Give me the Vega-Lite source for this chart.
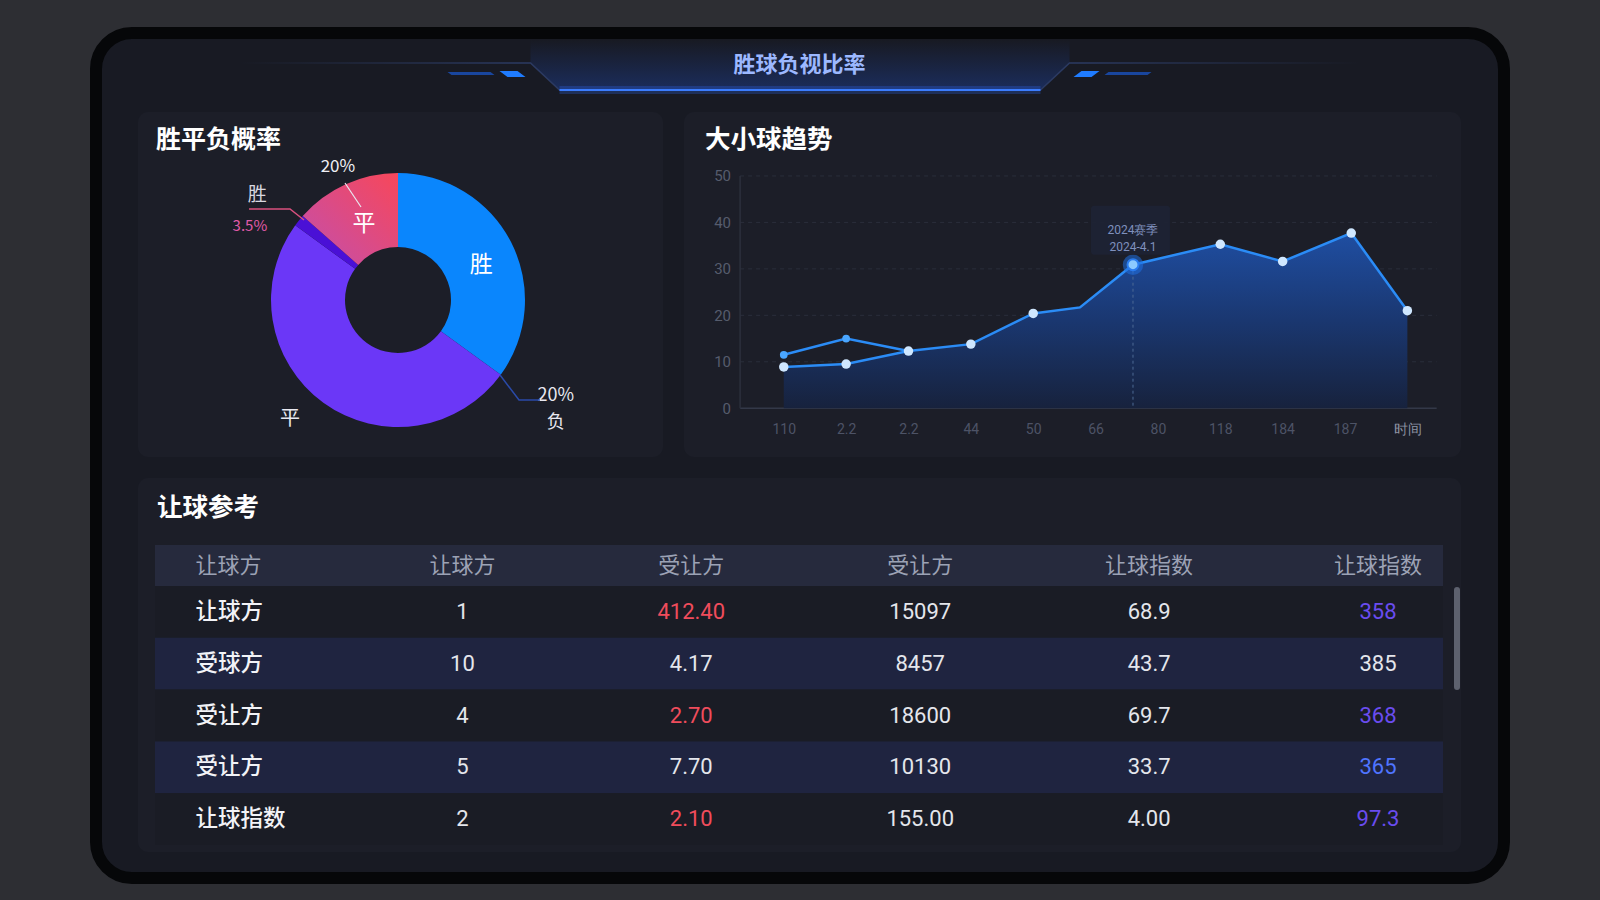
{
  "$schema": "https://vega.github.io/schema/vega-lite/v6.json",
  "background": "#2d2e33",
  "padding": {"left": 90, "top": 27, "right": 90, "bottom": 16},
  "bounds": "flush",
  "spacing": 21,
  "resolve": {"scale": {"color": "independent"}},
  "config": {
    "font": "Noto Sans CJK SC",
    "view": {"stroke": null},
    "axisX": {"domain": false, "ticks": false, "grid": false, "labelColor": "#4d5366", "labelFontSize": 14, "labelPadding": 14, "offset": -48.8, "labelFont": "Roboto"},
    "axisY": {"domain": false, "ticks": false, "grid": false, "labelColor": "#565c6d", "labelFontSize": 15, "labelPadding": 10, "offset": -56.5, "labelFont": "Roboto"}
  },
  "datasets": {
    "trend": [
      {"series": "大球", "t": 0, "v": 8.9, "dot": true, "selected": false},
      {"series": "大球", "t": 1, "v": 9.5, "dot": true, "selected": false},
      {"series": "大球", "t": 2, "v": 12.3, "dot": true, "selected": false},
      {"series": "大球", "t": 3, "v": 13.8, "dot": true, "selected": false},
      {"series": "大球", "t": 4, "v": 20.4, "dot": true, "selected": false},
      {"series": "大球", "t": 4.75, "v": 21.7, "dot": false, "selected": false},
      {"series": "大球", "t": 5.6, "v": 30.9, "dot": true, "selected": true, "tip": "2024赛季\n2024-4.1"},
      {"series": "大球", "t": 7, "v": 35.3, "dot": true, "selected": false},
      {"series": "大球", "t": 8, "v": 31.6, "dot": true, "selected": false},
      {"series": "大球", "t": 9.1, "v": 37.7, "dot": true, "selected": false},
      {"series": "大球", "t": 10, "v": 21.0, "dot": true, "selected": false},
      {"series": "小球", "t": 0, "v": 11.5, "dot": true, "selected": false},
      {"series": "小球", "t": 1, "v": 15.0, "dot": true, "selected": false},
      {"series": "小球", "t": 2, "v": 12.3, "dot": true, "selected": false}
    ],
    "head": [
      {"col": 1, "text": "让球方"}, {"col": 2, "text": "让球方"}, {"col": 3, "text": "受让方"},
      {"col": 4, "text": "受让方"}, {"col": 5, "text": "让球指数"}, {"col": 6, "text": "让球指数"}
    ],
    "body": [
      {"row": 1, "col": 1, "text": "让球方", "flag": "none"},
      {"row": 1, "col": 2, "text": "1", "flag": "none"},
      {"row": 1, "col": 3, "text": "412.40", "flag": "up"},
      {"row": 1, "col": 4, "text": "15097", "flag": "none"},
      {"row": 1, "col": 5, "text": "68.9", "flag": "none"},
      {"row": 1, "col": 6, "text": "358", "flag": "down"},
      {"row": 2, "col": 1, "text": "受球方", "flag": "none"},
      {"row": 2, "col": 2, "text": "10", "flag": "none"},
      {"row": 2, "col": 3, "text": "4.17", "flag": "none"},
      {"row": 2, "col": 4, "text": "8457", "flag": "none"},
      {"row": 2, "col": 5, "text": "43.7", "flag": "none"},
      {"row": 2, "col": 6, "text": "385", "flag": "none"},
      {"row": 3, "col": 1, "text": "受让方", "flag": "none"},
      {"row": 3, "col": 2, "text": "4", "flag": "none"},
      {"row": 3, "col": 3, "text": "2.70", "flag": "up"},
      {"row": 3, "col": 4, "text": "18600", "flag": "none"},
      {"row": 3, "col": 5, "text": "69.7", "flag": "none"},
      {"row": 3, "col": 6, "text": "368", "flag": "down"},
      {"row": 4, "col": 1, "text": "受让方", "flag": "none"},
      {"row": 4, "col": 2, "text": "5", "flag": "none"},
      {"row": 4, "col": 3, "text": "7.70", "flag": "none"},
      {"row": 4, "col": 4, "text": "10130", "flag": "none"},
      {"row": 4, "col": 5, "text": "33.7", "flag": "none"},
      {"row": 4, "col": 6, "text": "365", "flag": "hot"},
      {"row": 5, "col": 1, "text": "让球指数", "flag": "none"},
      {"row": 5, "col": 2, "text": "2", "flag": "none"},
      {"row": 5, "col": 3, "text": "2.10", "flag": "up"},
      {"row": 5, "col": 4, "text": "155.00", "flag": "none"},
      {"row": 5, "col": 5, "text": "4.00", "flag": "none"},
      {"row": 5, "col": 6, "text": "97.3", "flag": "down"}
    ]
  },
  "vconcat": [
    {
      "width": 1323,
      "height": 64,
      "view": {"fill": null, "stroke": null},
      "data": {"values": [{"title": "胜球负视比率"}]},
      "layer": [
        {
          "mark": {"type": "rect", "fill": "#181a23", "stroke": "#060709", "strokeWidth": 12, "cornerRadius": 36},
          "encoding": {"x": {"value": -42}, "x2": {"value": 1366}, "y": {"value": 6}, "y2": {"value": 851}}
        },
        {
          "mark": {"type": "point", "filled": true, "size": 4, "opacity": 1, "strokeWidth": 0,
            "shape": "M-269,13L-269,36L-240,63L241,63L270,36L270,13Z",
            "fill": {"gradient": "linear", "x1": 0, "y1": 0, "x2": 0, "y2": 1, "stops": [{"offset": 0, "color": "#181a23"}, {"offset": 1, "color": "#1b2d5c"}]}},
          "encoding": {"x": {"value": 661.5}, "y": {"value": 0}}
        },
        {
          "mark": {"type": "point", "filled": false, "size": 4, "opacity": 1, "strokeWidth": 1.5,
            "shape": "M-560,36L-269,36L-240,63L241,63L270,36L560,36",
            "stroke": {"gradient": "linear", "x1": 0, "y1": 0, "x2": 1, "y2": 0, "stops": [{"offset": 0, "color": "#181a23"}, {"offset": 0.25, "color": "#2b3a62"}, {"offset": 0.75, "color": "#2b3a62"}, {"offset": 1, "color": "#181a23"}]}},
          "encoding": {"x": {"value": 661.5}, "y": {"value": 0}}
        },
        {
          "mark": {"type": "point", "filled": false, "size": 4, "opacity": 0.25, "strokeWidth": 8, "stroke": "#2f6dff", "shape": "M-240,63L241,63"},
          "encoding": {"x": {"value": 661.5}, "y": {"value": 0}}
        },
        {
          "mark": {"type": "point", "filled": false, "size": 4, "opacity": 1, "strokeWidth": 2, "stroke": "#3b7dff", "shape": "M-240,63L241,63"},
          "encoding": {"x": {"value": 661.5}, "y": {"value": 0}}
        },
        {
          "mark": {"type": "point", "filled": true, "size": 4, "opacity": 1, "strokeWidth": 0, "fill": "#1f7cff",
            "shape": "M-300,44L-282,44L-274,50L-292,50Z M300,44L282,44L274,50L292,50Z"},
          "encoding": {"x": {"value": 661.5}, "y": {"value": 0}}
        },
        {
          "mark": {"type": "point", "filled": true, "size": 4, "opacity": 0.75, "strokeWidth": 0, "fill": "#1a56c8",
            "shape": "M-352,45L-309,45L-305,48L-348,48Z M352,45L309,45L305,48L348,48Z"},
          "encoding": {"x": {"value": 661.5}, "y": {"value": 0}}
        },
        {
          "mark": {"type": "text", "fontSize": 22, "fontWeight": 600, "fill": "#9cb8ff", "align": "center", "baseline": "middle"},
          "encoding": {"x": {"value": 661.5}, "y": {"value": 38}, "text": {"field": "title"}}
        }
      ]
    },
    {
      "spacing": 21,
      "resolve": {"scale": {"color": "independent"}},
      "vconcat": [
        {
          "spacing": 21,
          "resolve": {"scale": {"color": "independent"}},
          "hconcat": [
            {
              "width": 525,
              "height": 345,
              "view": {"fill": "#1c1e28", "cornerRadius": 10, "stroke": null},
              "title": {"text": "胜平负概率", "anchor": "start", "frame": "group", "offset": -41, "dx": 18, "fontSize": 25, "fontWeight": "bold", "color": "#ffffff"},
              "layer": [
                {
                  "data": {"values": [
                    {"k": "胜", "v": 35, "seq": 1, "tag": "", "note": "", "edge": "20%\n负"},
                    {"k": "负", "v": 50, "seq": 2, "tag": "平", "note": "", "edge": ""},
                    {"k": "走", "v": 1.5, "seq": 3, "tag": "胜", "note": "3.5%", "edge": ""},
                    {"k": "平", "v": 13.5, "seq": 4, "tag": "20%", "note": "", "edge": ""}
                  ]},
                  "encoding": {
                    "theta": {"field": "v", "type": "quantitative", "stack": true, "scale": {"domain": [0, 100]}},
                    "order": {"field": "seq", "type": "quantitative"},
                    "detail": {"field": "k", "type": "nominal"}
                  },
                  "layer": [
                    {
                      "mark": {"type": "arc", "innerRadius": 53, "outerRadius": 127, "x": 260, "y": 188},
                      "encoding": {
                        "color": {
                          "condition": {"test": "datum.k === '平'", "value": {"gradient": "linear", "x1": 0, "y1": 1, "x2": 1, "y2": 0, "stops": [{"offset": 0, "color": "#c24fae"}, {"offset": 1, "color": "#f7475a"}]}},
                          "field": "k", "type": "nominal",
                          "scale": {"domain": ["胜", "负", "走", "平"], "range": ["#0a86fd", "#6b37f7", "#4a10d6", "#f04a62"]},
                          "legend": null
                        }
                      }
                    },
                    {
                      "mark": {"type": "text", "radius": 90, "x": 260, "y": 188, "dx": 3, "dy": 6, "fontSize": 23, "fill": "#ffffff", "align": "center", "baseline": "middle"},
                      "encoding": {"text": {"condition": {"test": "datum.k === '胜' || datum.k === '平'", "field": "k"}, "value": ""}}
                    },
                    {
                      "mark": {"type": "text", "radius": 160, "x": 260, "y": 188, "dx": -14, "dy": -10, "fontSize": 20, "fill": "#e8e8f0", "align": "center", "baseline": "middle"},
                      "encoding": {"text": {"condition": {"test": "datum.k === '负'", "field": "tag"}, "value": ""}}
                    },
                    {
                      "mark": {"type": "text", "radius": 146, "x": 260, "y": 188, "fontSize": 17, "fill": "#f0f0f5", "align": "center", "baseline": "middle"},
                      "encoding": {"text": {"condition": {"test": "datum.k === '平'", "field": "tag"}, "value": ""}}
                    },
                    {
                      "mark": {"type": "text", "radius": 170, "x": 260, "y": 188, "dx": -8, "dy": 1, "fontSize": 19, "fill": "#d8d8e0", "align": "center", "baseline": "middle"},
                      "encoding": {"text": {"condition": {"test": "datum.k === '走'", "field": "tag"}, "value": ""}}
                    },
                    {
                      "mark": {"type": "text", "radius": 150, "x": 260, "y": 188, "dx": -31, "dy": 20, "fontSize": 15, "fill": "#e05aa8", "align": "center", "baseline": "middle"},
                      "encoding": {"text": {"field": "note"}}
                    },
                    {
                      "transform": [
                        {"window": [{"op": "sum", "field": "v", "as": "cum"}], "sort": [{"field": "seq"}], "frame": [null, 0]},
                        {"filter": "datum.k === '胜'"}
                      ],
                      "mark": {"type": "text", "radius": 190, "x": 260, "y": 188, "dx": 4, "dy": -16, "fontSize": 18, "fill": "#e8e8f0", "align": "center", "baseline": "middle", "lineBreak": "\n", "lineHeight": 27},
                      "encoding": {
                        "theta": {"field": "cum", "type": "quantitative", "stack": null, "scale": {"domain": [0, 100]}},
                        "text": {"field": "edge"}
                      }
                    }
                  ]
                },
                {
                  "data": {"values": [{}]},
                  "mark": {"type": "point", "filled": false, "size": 4, "opacity": 1, "strokeWidth": 1.2, "stroke": "#e8e8f0", "shape": "M-53,-117L-37,-93"},
                  "encoding": {"x": {"value": 260}, "y": {"value": 188}}
                },
                {
                  "data": {"values": [{}]},
                  "mark": {"type": "point", "filled": false, "size": 4, "opacity": 1, "strokeWidth": 1.5, "stroke": "#d9507e", "shape": "M-149,-91L-108,-91L-94,-80"},
                  "encoding": {"x": {"value": 260}, "y": {"value": 188}}
                },
                {
                  "data": {"values": [{}]},
                  "mark": {"type": "point", "filled": false, "size": 4, "opacity": 1, "strokeWidth": 1.5, "stroke": "#2a4aa8", "shape": "M102,75L121,100L142,100"},
                  "encoding": {"x": {"value": 260}, "y": {"value": 188}}
                }
              ]
            },
            {
              "width": 777,
              "height": 345,
              "view": {"fill": "#1c1e28", "cornerRadius": 10, "stroke": null},
              "title": {"text": "大小球趋势", "anchor": "start", "frame": "group", "offset": -41, "dx": 21, "fontSize": 25.5, "fontWeight": "bold", "color": "#ffffff"},
              "layer": [
                {
                  "data": {"values": [{"g": 10}, {"g": 20}, {"g": 30}, {"g": 40}, {"g": 50}]},
                  "mark": {"type": "rule", "stroke": "#2a2e3b", "strokeDash": [4, 4], "strokeWidth": 1},
                  "encoding": {
                    "y": {"field": "g", "type": "quantitative", "scale": {"domain": [-10.5, 63.77], "nice": false, "zero": false}, "title": null},
                    "x": {"datum": -0.7, "type": "quantitative", "scale": {"domain": [-1.6, 10.86], "nice": false, "zero": false}, "title": null},
                    "x2": {"datum": 10.47}
                  }
                },
                {
                  "data": {"values": [{"g": 0}]},
                  "mark": {"type": "rule", "stroke": "#333848", "strokeWidth": 1.5},
                  "encoding": {
                    "y": {"field": "g", "type": "quantitative", "scale": {"domain": [-10.5, 63.77], "nice": false, "zero": false}, "title": null},
                    "x": {"datum": -0.7, "type": "quantitative", "scale": {"domain": [-1.6, 10.86], "nice": false, "zero": false}, "title": null},
                    "x2": {"datum": 10.47}
                  }
                },
                {
                  "data": {"values": [{"g": 0}]},
                  "mark": {"type": "rule", "stroke": "#2c303c", "strokeWidth": 1.5},
                  "encoding": {
                    "x": {"datum": -0.7, "type": "quantitative", "scale": {"domain": [-1.6, 10.86], "nice": false, "zero": false}, "title": null},
                    "y": {"field": "g", "type": "quantitative", "scale": {"domain": [-10.5, 63.77], "nice": false, "zero": false}, "title": null},
                    "y2": {"datum": 50}
                  }
                },
                {
                  "data": {"name": "trend"},
                  "transform": [{"filter": "datum.series === '大球'"}],
                  "mark": {"type": "area", "fill": {"gradient": "linear", "x1": 0, "y1": 0, "x2": 0, "y2": 1, "stops": [{"offset": 0, "color": "#1f4ea2"}, {"offset": 0.5, "color": "#1a3770"}, {"offset": 1, "color": "#17223d"}]}},
                  "encoding": {
                    "x": {"field": "t", "type": "quantitative", "scale": {"domain": [-1.6, 10.86], "nice": false, "zero": false}, "title": null,
                      "axis": {"values": [0, 1, 2, 3, 4, 5, 6, 7, 8, 9, 10],
                        "labelExpr": "['110','2.2','2.2','44','50','66','80','118','184','187','时间'][datum.value]",
                        "labelColor": {"condition": {"test": "datum.value == 10", "value": "#8d93a3"}, "value": "#4d5366"}}},
                    "y": {"field": "v", "type": "quantitative", "scale": {"domain": [-10.5, 63.77], "nice": false, "zero": false}, "title": null,
                      "axis": {"values": [0, 10, 20, 30, 40, 50]}},
                    "y2": {"datum": 0}
                  }
                },
                {
                  "data": {"name": "trend"},
                  "transform": [{"filter": "datum.selected"}],
                  "mark": {"type": "rule", "stroke": "#4d6a94", "strokeDash": [3, 3], "strokeWidth": 1},
                  "encoding": {
                    "x": {"field": "t", "type": "quantitative", "scale": {"domain": [-1.6, 10.86], "nice": false, "zero": false}, "title": null},
                    "y": {"field": "v", "type": "quantitative", "scale": {"domain": [-10.5, 63.77], "nice": false, "zero": false}, "title": null},
                    "y2": {"datum": 0}
                  }
                },
                {
                  "data": {"name": "trend"},
                  "mark": {"type": "line", "stroke": "#2b8cf6", "strokeWidth": 2.5},
                  "encoding": {
                    "x": {"field": "t", "type": "quantitative", "scale": {"domain": [-1.6, 10.86], "nice": false, "zero": false}, "title": null},
                    "y": {"field": "v", "type": "quantitative", "scale": {"domain": [-10.5, 63.77], "nice": false, "zero": false}, "title": null},
                    "detail": {"field": "series", "type": "nominal"}
                  }
                },
                {
                  "data": {"name": "trend"},
                  "transform": [{"filter": "datum.series === '小球'"}],
                  "mark": {"type": "point", "filled": true, "fill": "#4aa6ff", "size": 60, "opacity": 1},
                  "encoding": {
                    "x": {"field": "t", "type": "quantitative", "scale": {"domain": [-1.6, 10.86], "nice": false, "zero": false}, "title": null},
                    "y": {"field": "v", "type": "quantitative", "scale": {"domain": [-10.5, 63.77], "nice": false, "zero": false}, "title": null}
                  }
                },
                {
                  "data": {"name": "trend"},
                  "transform": [{"filter": "datum.series === '大球' && datum.dot && !datum.selected"}],
                  "mark": {"type": "point", "filled": true, "fill": "#cfe7ff", "size": 90, "opacity": 1},
                  "encoding": {
                    "x": {"field": "t", "type": "quantitative", "scale": {"domain": [-1.6, 10.86], "nice": false, "zero": false}, "title": null},
                    "y": {"field": "v", "type": "quantitative", "scale": {"domain": [-10.5, 63.77], "nice": false, "zero": false}, "title": null}
                  }
                },
                {
                  "data": {"name": "trend"},
                  "transform": [{"filter": "datum.selected"}],
                  "mark": {"type": "point", "filled": true, "fill": "#1f6fe0", "size": 420, "opacity": 0.55},
                  "encoding": {
                    "x": {"field": "t", "type": "quantitative", "scale": {"domain": [-1.6, 10.86], "nice": false, "zero": false}, "title": null},
                    "y": {"field": "v", "type": "quantitative", "scale": {"domain": [-10.5, 63.77], "nice": false, "zero": false}, "title": null}
                  }
                },
                {
                  "data": {"name": "trend"},
                  "transform": [{"filter": "datum.selected"}],
                  "mark": {"type": "point", "filled": true, "fill": "#8ccaff", "stroke": "#2a7cf0", "strokeWidth": 2, "size": 120, "opacity": 1},
                  "encoding": {
                    "x": {"field": "t", "type": "quantitative", "scale": {"domain": [-1.6, 10.86], "nice": false, "zero": false}, "title": null},
                    "y": {"field": "v", "type": "quantitative", "scale": {"domain": [-10.5, 63.77], "nice": false, "zero": false}, "title": null}
                  }
                },
                {
                  "data": {"name": "trend"},
                  "transform": [{"filter": "datum.selected"}],
                  "mark": {"type": "rect", "fill": "#1d2334", "opacity": 0.95, "cornerRadius": 3, "xOffset": -42, "x2Offset": 37, "yOffset": -59, "y2Offset": -10},
                  "encoding": {
                    "x": {"field": "t", "type": "quantitative", "scale": {"domain": [-1.6, 10.86], "nice": false, "zero": false}, "title": null},
                    "x2": {"field": "t"},
                    "y": {"field": "v", "type": "quantitative", "scale": {"domain": [-10.5, 63.77], "nice": false, "zero": false}, "title": null},
                    "y2": {"field": "v"}
                  }
                },
                {
                  "data": {"name": "trend"},
                  "transform": [{"filter": "datum.selected"}],
                  "mark": {"type": "text", "fill": "#7f90bd", "fontSize": 12, "align": "center", "baseline": "middle", "lineBreak": "\n", "lineHeight": 17, "yOffset": -35, "font": "Roboto"},
                  "encoding": {
                    "x": {"field": "t", "type": "quantitative", "scale": {"domain": [-1.6, 10.86], "nice": false, "zero": false}, "title": null},
                    "y": {"field": "v", "type": "quantitative", "scale": {"domain": [-10.5, 63.77], "nice": false, "zero": false}, "title": null},
                    "text": {"field": "tip"}
                  }
                }
              ]
            }
          ]
        },
        {
          "width": 1323,
          "height": 374,
          "view": {"fill": "#1c1e28", "cornerRadius": 10, "stroke": null},
          "title": {"text": "让球参考", "anchor": "start", "frame": "group", "offset": -43, "dx": 19, "fontSize": 25.5, "fontWeight": "bold", "color": "#ffffff"},
          "layer": [
            {
              "data": {"name": "head"},
              "encoding": {
                "y": {"datum": "表头", "type": "nominal", "scale": {"type": "band", "domain": ["表头"], "range": [67, 108], "paddingInner": 0, "paddingOuter": 0}, "axis": null}
              },
              "layer": [
                {
                  "mark": {"type": "rect", "fill": "#262a3d"},
                  "encoding": {"x": {"value": 17}, "x2": {"value": 1305}}
                },
                {
                  "transform": [{"filter": "datum.col === 1"}],
                  "mark": {"type": "text", "fontSize": 22, "fill": "#9ca2b5", "align": "left", "dx": -38, "baseline": "middle"},
                  "encoding": {
                    "x": {"field": "col", "type": "ordinal", "scale": {"type": "point", "domain": [1, 2, 3, 4, 5, 6], "range": [24.5, 1311], "padding": 0.31}, "axis": null},
                    "text": {"field": "text"}
                  }
                },
                {
                  "transform": [{"filter": "datum.col > 1"}],
                  "mark": {"type": "text", "fontSize": 22, "fill": "#9ca2b5", "align": "center", "baseline": "middle"},
                  "encoding": {
                    "x": {"field": "col", "type": "ordinal", "scale": {"type": "point", "domain": [1, 2, 3, 4, 5, 6], "range": [24.5, 1311], "padding": 0.31}, "axis": null},
                    "text": {"field": "text"}
                  }
                }
              ]
            },
            {
              "data": {"name": "body"},
              "encoding": {
                "y": {"field": "row", "type": "ordinal", "scale": {"type": "band", "domain": [1, 2, 3, 4, 5], "range": [108, 367], "paddingInner": 0, "paddingOuter": 0}, "axis": null}
              },
              "layer": [
                {
                  "transform": [{"filter": "datum.col === 1"}],
                  "mark": {"type": "rect"},
                  "encoding": {
                    "x": {"value": 17}, "x2": {"value": 1305},
                    "fill": {"condition": {"test": "datum.row % 2 === 0", "value": "#1f2440"}, "value": "#1a1c25"}
                  }
                },
                {
                  "transform": [{"filter": "datum.col === 1"}],
                  "mark": {"type": "text", "fontSize": 22.5, "fontWeight": 500, "fill": "#f2f3f7", "align": "left", "dx": -38, "baseline": "middle"},
                  "encoding": {
                    "x": {"field": "col", "type": "ordinal", "scale": {"type": "point", "domain": [1, 2, 3, 4, 5, 6], "range": [24.5, 1311], "padding": 0.31}, "axis": null},
                    "text": {"field": "text"}
                  }
                },
                {
                  "transform": [{"filter": "datum.col > 1"}],
                  "mark": {"type": "text", "fontSize": 22, "font": "Roboto", "align": "center", "baseline": "middle"},
                  "encoding": {
                    "x": {"field": "col", "type": "ordinal", "scale": {"type": "point", "domain": [1, 2, 3, 4, 5, 6], "range": [24.5, 1311], "padding": 0.31}, "axis": null},
                    "text": {"field": "text"},
                    "color": {"field": "flag", "type": "nominal", "scale": {"domain": ["up", "down", "hot", "none"], "range": ["#f04c5c", "#6a4cf0", "#4f74ff", "#e4e6ec"]}, "legend": null}
                  }
                }
              ]
            },
            {
              "data": {"values": [{}]},
              "mark": {"type": "rule", "stroke": "#5d616e", "strokeWidth": 6, "strokeCap": "round"},
              "encoding": {"x": {"value": 1319}, "y": {"value": 112}, "y2": {"value": 209}}
            }
          ],
          "resolve": {"scale": {"y": "independent"}}
        }
      ]
    }
  ]
}
